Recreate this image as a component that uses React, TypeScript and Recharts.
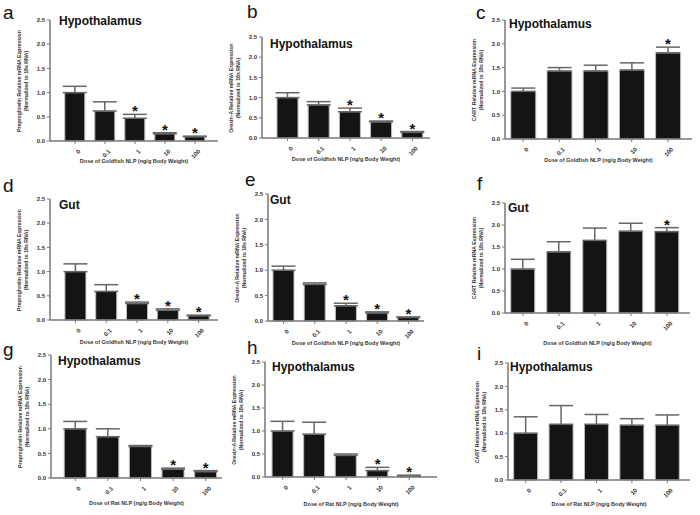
import { ComposedChart, Bar, Line, XAxis, YAxis, ErrorBar } from "recharts";

const doses = ["0", "0.1", "1", "10", "100"];
const yTicks = [0, 0.5, 1, 1.5, 2, 2.5];

// means and upper error tops
const aMean = [1.0, 0.62, 0.47, 0.15, 0.09];
const aTop = [1.13, 0.81, 0.55, 0.17, 0.1];
const aStar = [false, false, true, true, true];

const bMean = [1.0, 0.82, 0.65, 0.4, 0.14];
const bTop = [1.12, 0.9, 0.74, 0.42, 0.16];
const bStar = [false, false, true, true, true];

const cMean = [1.0, 1.43, 1.43, 1.45, 1.81];
const cTop = [1.07, 1.5, 1.55, 1.6, 1.93];
const cStar = [false, false, false, false, true];

const dMean = [1.0, 0.59, 0.34, 0.2, 0.09];
const dTop = [1.16, 0.73, 0.37, 0.23, 0.1];
const dStar = [false, false, true, true, true];

const eMean = [1.0, 0.72, 0.3, 0.16, 0.07];
const eTop = [1.08, 0.75, 0.35, 0.18, 0.08];
const eStar = [false, false, true, true, true];

const fMean = [1.0, 1.39, 1.65, 1.86, 1.85];
const fTop = [1.22, 1.62, 1.93, 2.04, 1.94];
const fStar = [false, false, false, false, true];

const gMean = [1.0, 0.84, 0.64, 0.18, 0.13];
const gTop = [1.15, 1.0, 0.66, 0.2, 0.15];
const gStar = [false, false, false, true, true];

const hMean = [1.0, 0.93, 0.47, 0.14, 0.02];
const hTop = [1.21, 1.19, 0.5, 0.21, 0.04];
const hStar = [false, false, false, true, true];

const iMean = [1.0, 1.19, 1.19, 1.17, 1.17];
const iTop = [1.35, 1.59, 1.4, 1.31, 1.39];
const iStar = [false, false, false, false, false];

const ghrelinLabel = "Preproghrelin Relative mRNA Expression";
const orexinLabel = "Orexin-A Relative mRNA Expression";
const cartLabel = "CART Relative mRNA Expression";
const normLabel = "(Normalized to 18s RNA)";
const goldfishLabel = "Dose of Goldfish NLP (ng/g Body Weight)";
const ratLabel = "Dose of Rat NLP (ng/g Body Weight)";

const FONT = "'Liberation Sans', Arial, sans-serif";

function build(mean: number[], top: number[], star: boolean[]) {
  return doses.map((d, i) => ({
    dose: d,
    v: mean[i],
    e: [0, +(top[i] - mean[i]).toFixed(3)],
    star: star[i] ? top[i] : null,
  }));
}

const XTick = (props: any) => {
  const { x, y, payload } = props;
  return (
    <g transform={`translate(${x + 3},${y + 3})`}>
      <text
        x={0}
        y={0}
        dy={4}
        transform="rotate(-45)"
        textAnchor="end"
        fontSize={6}
        fontWeight="bold"
        fill="#333"
        fontFamily={FONT}
      >
        {payload.value}
      </text>
    </g>
  );
};

const StarDot = (props: any) => {
  const { cx, cy, payload, index } = props;
  if (payload == null || payload.star == null || cy == null) return <g key={index} />;
  return (
    <text
      key={index}
      x={cx}
      y={cy + 2}
      textAnchor="middle"
      fontSize={15}
      fontWeight="bold"
      fill="#111"
      fontFamily={FONT}
    >
      *
    </text>
  );
};

type PanelProps = {
  letter: string;
  lx: number;
  ly: number;
  title: string;
  tx: number;
  ty: number;
  ax: number;
  top: number;
  zero: number;
  xend: number;
  padL: number;
  padR: number;
  ylabel: string;
  xlabel: string;
  xly: number;
  mean: number[];
  errTop: number[];
  star: boolean[];
};

function Panel(p: PanelProps) {
  const data = build(p.mean, p.errTop, p.star);
  const w = p.xend - p.ax + 40;
  const h = p.zero - p.top + 38;
  const midY = (p.top + p.zero) / 2;
  return (
    <>
      <div
        style={{
          position: "absolute",
          left: p.lx,
          top: p.ly + 4,
          fontSize: 19,
          lineHeight: 0.6,
          fontFamily: FONT,
          color: "#111",
        }}
      >
        {p.letter}
      </div>
      <div style={{ position: "absolute", left: p.ax - 30, top: p.top - 10 }}>
        <ComposedChart
          width={w}
          height={h}
          data={data}
          margin={{ top: 10, right: 10, left: 10, bottom: 0 }}
          barCategoryGap="16%"
        >
          <XAxis
            dataKey="dose"
            height={28}
            padding={{ left: p.padL, right: p.padR }}
            tick={<XTick />}
            tickSize={3}
            axisLine={{ stroke: "#777", strokeWidth: 1.5 }}
            tickLine={{ stroke: "#777" }}
            interval={0}
          />
          <YAxis
            width={20}
            domain={[0, 2.5]}
            ticks={yTicks}
            tickFormatter={(v: number) => v.toFixed(1)}
            tickSize={3}
            tick={{ fontSize: 6, fontWeight: "bold", fill: "#333", fontFamily: FONT }}
            axisLine={{ stroke: "#777", strokeWidth: 1.5 }}
            tickLine={{ stroke: "#777" }}
          />
          <Bar dataKey="v" fill="#141414" stroke="#bbb" strokeWidth={1} isAnimationActive={false}>
            <ErrorBar dataKey="e" width={12} stroke="#666" strokeWidth={1.5} direction="y" />
          </Bar>
          <Line
            dataKey="star"
            stroke="none"
            dot={StarDot}
            activeDot={false}
            legendType="none"
            isAnimationActive={false}
          />
        </ComposedChart>
      </div>
      <div
        style={{
          position: "absolute",
          left: p.tx,
          top: p.ty,
          transform: "translateY(-50%)",
          fontSize: 12,
          fontWeight: "bold",
          fontFamily: FONT,
          color: "#111",
          whiteSpace: "nowrap",
        }}
      >
        {p.title}
      </div>
      <div
        style={{
          position: "absolute",
          left: p.ax - 27,
          top: midY,
          transform: "translate(-50%, -50%) rotate(-90deg)",
          fontSize: 5.2,
          fontWeight: "bold",
          fontFamily: FONT,
          color: "#333",
          whiteSpace: "nowrap",
          textAlign: "center",
          lineHeight: 1.35,
        }}
      >
        {p.ylabel}
        <br />
        {normLabel}
      </div>
      <div
        style={{
          position: "absolute",
          left: (p.ax + p.xend) / 2,
          top: p.xly,
          transform: "translate(-50%, -50%)",
          fontSize: 5.5,
          fontWeight: "bold",
          fontFamily: FONT,
          color: "#333",
          whiteSpace: "nowrap",
        }}
      >
        {p.xlabel}
      </div>
    </>
  );
}

export default function App() {
  return (
    <div
      style={{
        position: "absolute",
        left: 0,
        top: 0,
        width: 700,
        height: 515,
        background: "#fff",
        overflow: "hidden",
      }}
    >
      <Panel letter="a" lx={3} ly={3} title="Hypothalamus" tx={59} ty={21}
        ax={50} top={20} zero={141} xend={218} padL={10} padR={8}
        ylabel={ghrelinLabel} xlabel={goldfishLabel} xly={161}
        mean={aMean} errTop={aTop} star={aStar} />
      <Panel letter="b" lx={247} ly={2} title="Hypothalamus" tx={270} ty={44}
        ax={262} top={37} zero={138} xend={430} padL={10} padR={2}
        ylabel={orexinLabel} xlabel={goldfishLabel} xly={159}
        mean={bMean} errTop={bTop} star={bStar} />
      <Panel letter="c" lx={476} ly={3} title="Hypothalamus" tx={509} ty={24}
        ax={505} top={20} zero={139} xend={692} padL={0} padR={6}
        ylabel={cartLabel} xlabel={goldfishLabel} xly={160}
        mean={cMean} errTop={cTop} star={cStar} />

      <Panel letter="d" lx={3} ly={176} title="Gut" tx={59} ty={205}
        ax={50} top={199} zero={320} xend={218} padL={10} padR={4}
        ylabel={ghrelinLabel} xlabel={goldfishLabel} xly={342}
        mean={dMean} errTop={dTop} star={dStar} />
      <Panel letter="e" lx={245} ly={170} title="Gut" tx={270} ty={200}
        ax={268} top={194} zero={321} xend={424} padL={0} padR={0}
        ylabel={orexinLabel} xlabel={goldfishLabel} xly={343}
        mean={eMean} errTop={eTop} star={eStar} />
      <Panel letter="f" lx={477} ly={174} title="Gut" tx={508} ty={208}
        ax={505} top={203} zero={313} xend={690} padL={0} padR={5}
        ylabel={cartLabel} xlabel={goldfishLabel} xly={343}
        mean={fMean} errTop={fTop} star={fStar} />

      <Panel letter="g" lx={3} ly={340} title="Hypothalamus" tx={58} ty={361}
        ax={51} top={355} zero={478} xend={222} padL={8} padR={0}
        ylabel={ghrelinLabel} xlabel={ratLabel} xly={503}
        mean={gMean} errTop={gTop} star={gStar} />
      <Panel letter="h" lx={247} ly={338} title="Hypothalamus" tx={272} ty={367}
        ax={265} top={362} zero={477} xend={437} padL={2} padR={12}
        ylabel={orexinLabel} xlabel={ratLabel} xly={504}
        mean={hMean} errTop={hTop} star={hStar} />
      <Panel letter="i" lx={477} ly={344} title="Hypothalamus" tx={510} ty={367}
        ax={508} top={363} zero={480} xend={690} padL={0} padR={5}
        ylabel={cartLabel} xlabel={ratLabel} xly={504}
        mean={iMean} errTop={iTop} star={iStar} />
    </div>
  );
}
